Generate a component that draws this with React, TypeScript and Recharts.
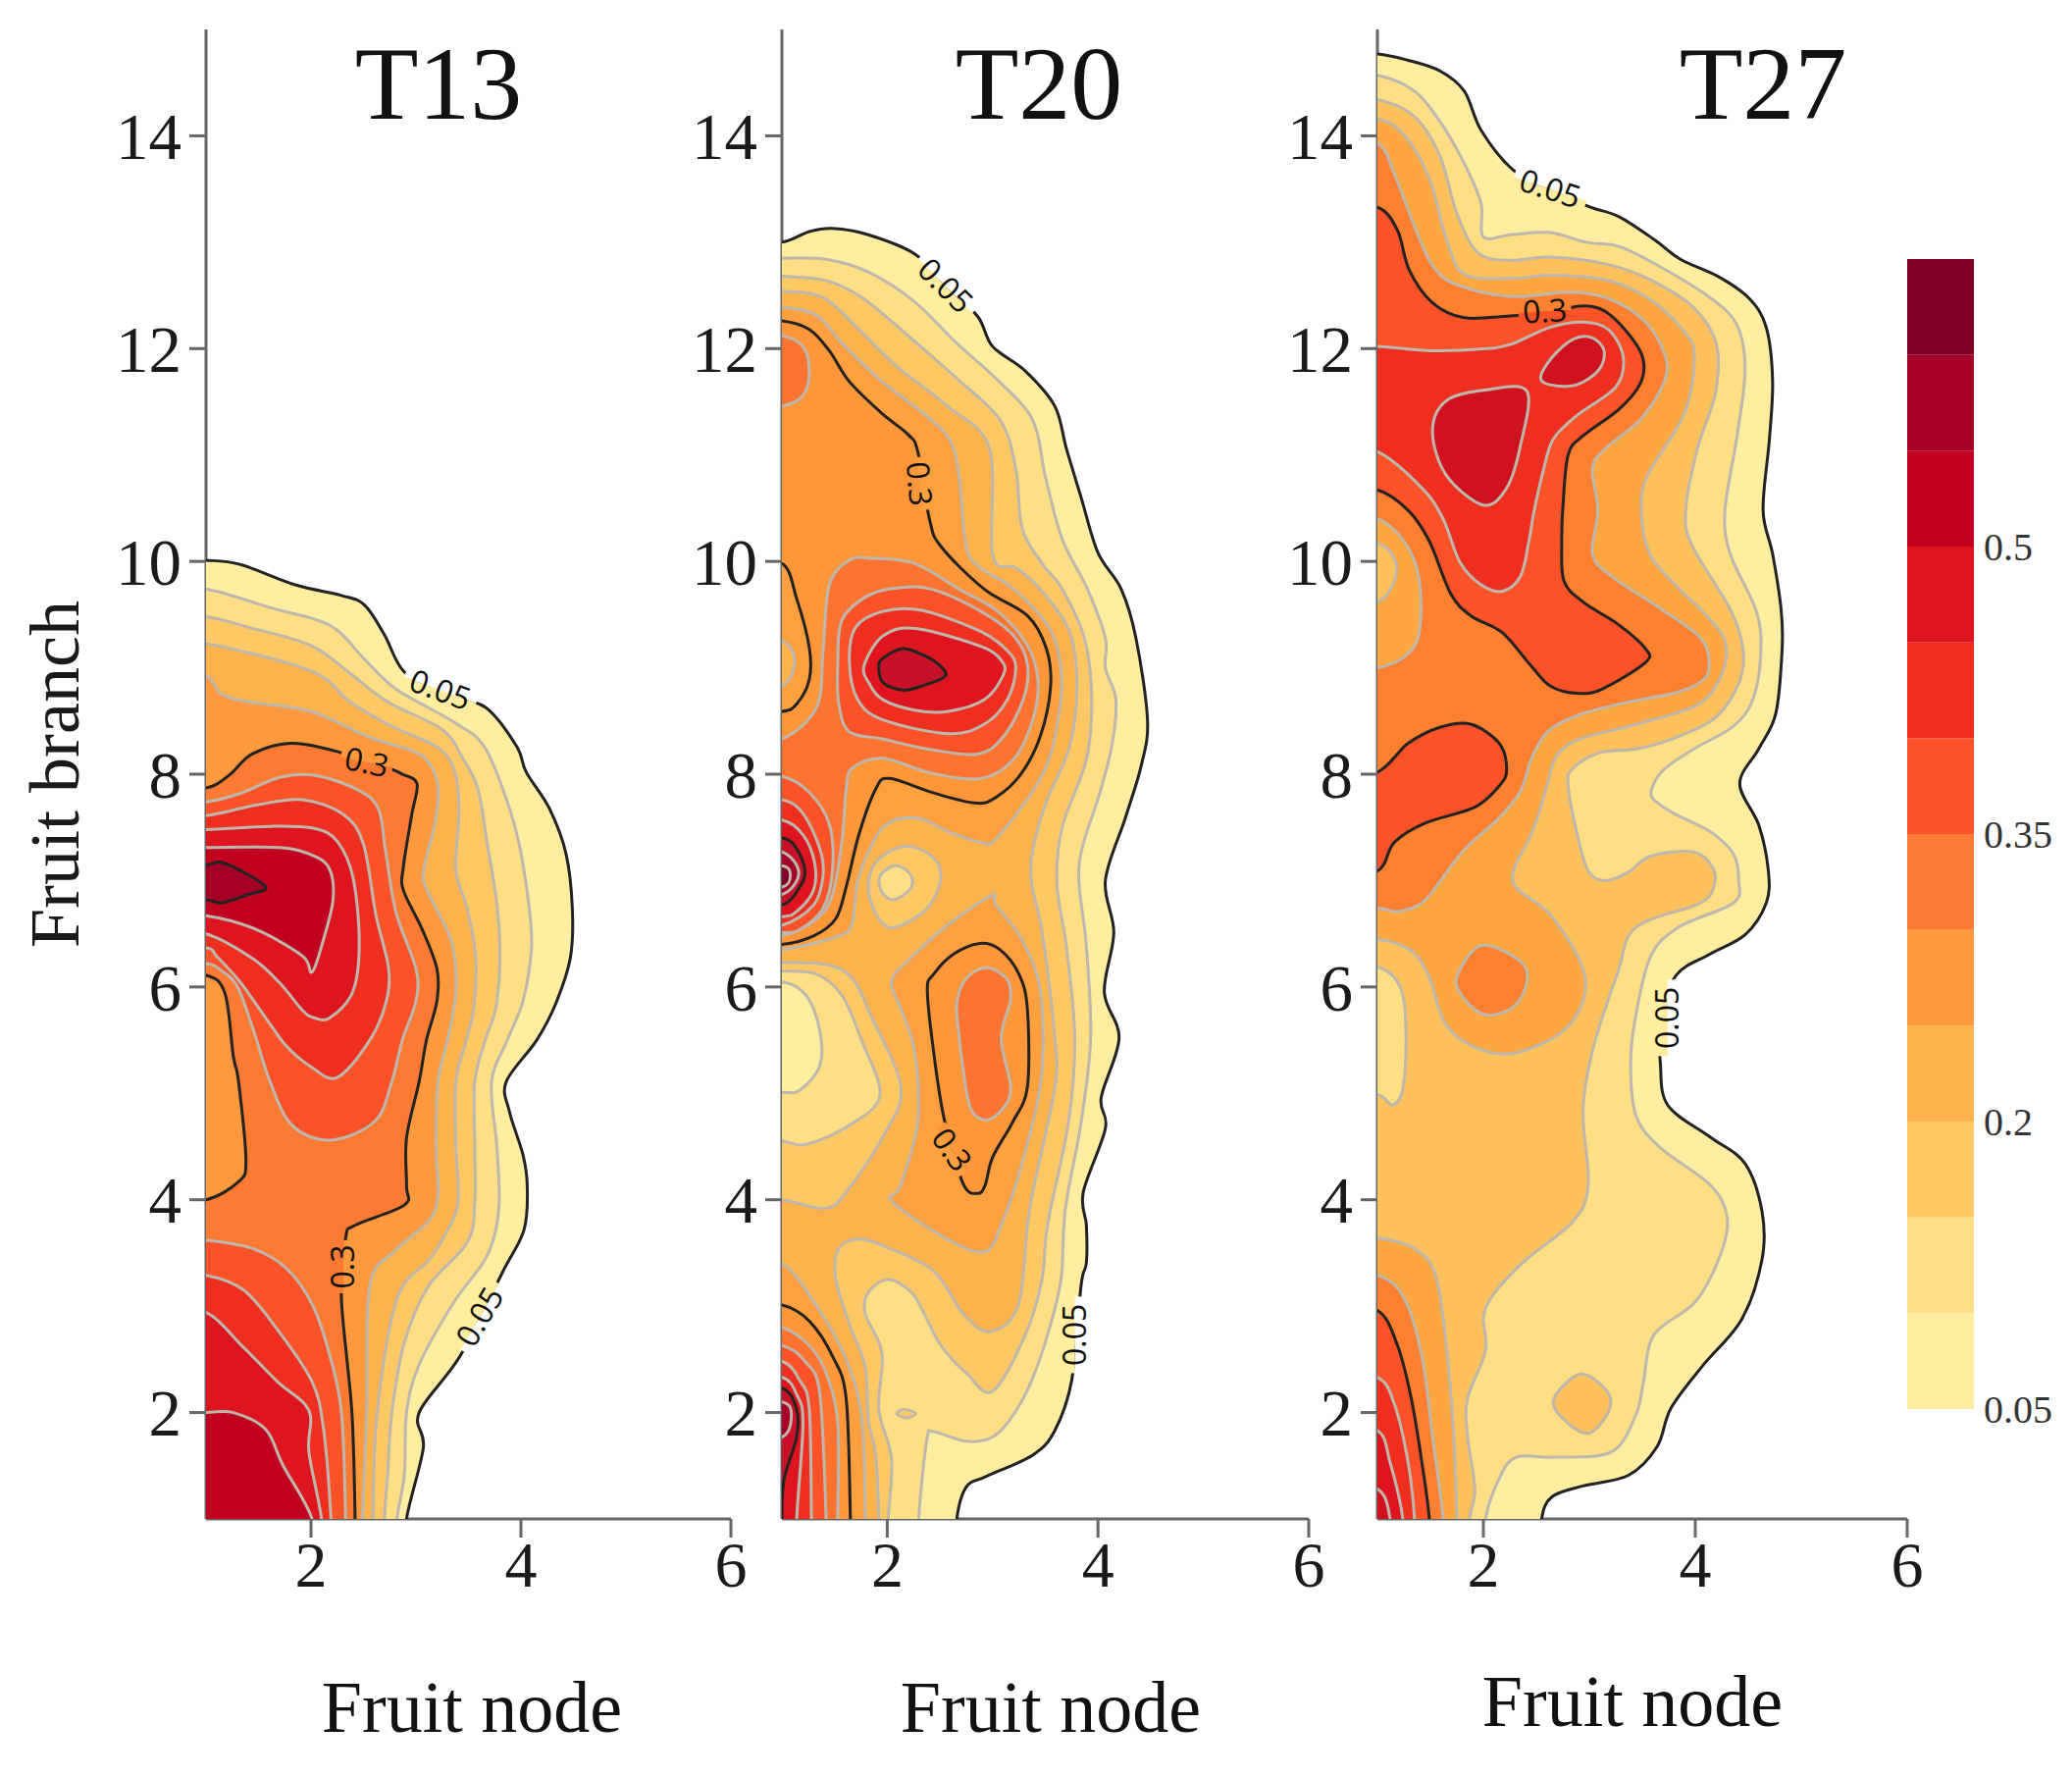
import { ScatterChart, Scatter, XAxis, YAxis, BarChart, Bar } from 'recharts'

type Pt = number[]

// colour steps of the scale, low to high
const C = {
  a: '#FFEDA0', b: '#FEDF83', c: '#FEC965', d: '#FEB24C', e: '#FE9A3D', f: '#FD7A33',
  g: '#FC5227', h: '#EE2F1F', i: '#DE141E', j: '#C2001F', k: '#A50026', l: '#800026',
}
const GREY = '#BDB7AE'
const BLACK = '#222222'
const SERIF = '"Liberation Serif", serif'

const nodeTicks = [2, 4, 6]
const branchTicks = [2, 4, 6, 8, 10, 12, 14]

const scaleSteps = [0.1, 0.05, 0.05, 0.05, 0.05, 0.05, 0.05, 0.05, 0.05, 0.05, 0.05, 0.05]
const scaleColors = [C.a, C.b, C.c, C.d, C.e, C.f, C.g, C.h, C.i, C.j, C.k, C.l]
const scaleTicks = [0.05, 0.2, 0.35, 0.5]

// ---- T13 contours (fruit node, fruit branch)
const t13Outer: Pt[] = [[1,10.01],[1.33,9.97],[1.85,9.78],[2.29,9.68],[2.51,9.59],[2.7,9.31],[2.88,8.97],[3.21,8.77],[3.66,8.63],[3.96,8.26],[4.05,8.02],[4.27,7.68],[4.43,7.25],[4.49,6.73],[4.47,6.27],[4.33,5.84],[4.15,5.5],[3.86,5.11],[3.89,4.83],[4.02,4.42],[4.06,4.13],[4.03,3.72],[3.82,3.31],[3.42,2.53],[3.03,2],[3.07,1.67],[2.91,1]]
const t13L2: Pt[] = [[1,9.74],[1.63,9.56],[2.18,9.4],[2.51,9.08],[2.81,8.8],[3.36,8.49],[3.65,8.26],[3.87,7.74],[3.99,7.31],[4.08,6.73],[4.1,6.36],[4.02,5.87],[3.87,5.5],[3.72,5.11],[3.77,4.5],[3.79,3.93],[3.68,3.48],[3.35,3.02],[3.03,2.45],[2.91,2],[2.89,1.42],[2.82,1]]
const t13L3: Pt[] = [[1,9.48],[1.41,9.38],[2,9.21],[2.37,8.95],[2.73,8.68],[3.25,8.42],[3.45,8.14],[3.59,7.86],[3.68,7.34],[3.77,6.79],[3.8,6.27],[3.76,5.8],[3.66,5.5],[3.56,5.11],[3.56,4.5],[3.56,3.97],[3.49,3.6],[3.12,3.19],[2.89,2.66],[2.77,2],[2.73,1.42],[2.7,1]]
const t13L4: Pt[] = [[1,9.23],[2,8.97],[2.37,8.68],[2.77,8.45],[3.21,8.25],[3.37,8.02],[3.41,7.65],[3.38,7.1],[3.49,6.73],[3.57,6.27],[3.55,5.8],[3.48,5.5],[3.38,5.11],[3.38,4.5],[3.4,3.97],[3.26,3.64],[3.12,3.43],[2.82,3.07],[2.63,2],[2.59,1]]
const t13L5: Pt[] = [[1,8.92],[1.15,8.75],[1.41,8.68],[2,8.59],[2.55,8.35],[2.96,8.22],[3.12,8.11],[3.21,7.89],[3.18,7.53],[3.07,7.08],[3.12,6.88],[3.34,6.42],[3.38,5.96],[3.3,5.5],[3.21,5.11],[3.19,4.5],[3.21,4.05],[3.12,3.8],[2.8,3.52],[2.56,3.19],[2.53,2],[2.49,1]]
const t13Mid: Pt[] = [[1,7.87],[1.22,7.99],[1.44,8.19],[1.81,8.29],[2.22,8.22],[2.73,8.06],[2.87,8],[3.01,7.91],[2.96,7.62],[2.88,7.13],[2.88,6.91],[3.06,6.54],[3.2,6.17],[3.2,5.87],[3.1,5.5],[3.03,5.11],[2.91,4.58],[2.91,4.13],[2.89,3.95],[2.42,3.76],[2.33,3.64],[2.29,3.07],[2.39,2],[2.42,1]]
const t13Pocket: Pt[] = [[1,6.11],[1.18,5.94],[1.26,5.35],[1.31,5.11],[1.38,4.37],[1.31,4.17],[1,4]]
const t13UpperG: Pt[] = [[1,7.74],[1.33,7.82],[1.7,7.97],[2.03,7.99],[2.43,7.86],[2.64,7.68],[2.71,7.28],[2.81,6.7],[3,6.17],[3,5.87],[2.87,5.5],[2.77,5.11],[2.61,4.74],[2.19,4.56],[1.82,4.7],[1.61,5.11],[1.45,5.6],[1.3,6],[1.15,6.15],[1,6.22]]
const t13UpperH: Pt[] = [[1,7.61],[1.48,7.71],[1.92,7.76],[2.31,7.62],[2.5,7.34],[2.62,6.67],[2.74,6.17],[2.71,5.84],[2.56,5.5],[2.25,5.15],[2,5.25],[1.77,5.44],[1.59,5.68],[1.33,6.04],[1.11,6.28],[1,6.37]]
const t13UpperI: Pt[] = [[1,7.48],[1.63,7.51],[2.03,7.49],[2.25,7.37],[2.4,7.03],[2.46,6.42],[2.4,5.96],[2.18,5.71],[2.03,5.71],[1.92,5.78],[1.7,6.04],[1.44,6.27],[1,6.5]]
const t13UpperJ: Pt[] = [[1,7.31],[1.7,7.31],[2.03,7.23],[2.18,7.1],[2.21,6.82],[2.12,6.45],[2.01,6.14],[1.92,6.29],[1.48,6.54],[1,6.67]]
const t13Peak: Pt[] = [[1,7.15],[1.15,7.17],[1.41,7.05],[1.57,6.93],[1.41,6.87],[1.15,6.79],[1,6.82]]
const t13LowerG: Pt[] = [[1,3.62],[1.45,3.54],[1.77,3.35],[2.01,3.02],[2.17,2.57],[2.29,2],[2.33,1]]
const t13LowerH: Pt[] = [[1,3.29],[1.36,3.15],[1.68,2.78],[2.01,2.29],[2.12,1.84],[2.19,1]]
const t13LowerI: Pt[] = [[1,2.94],[1.36,2.61],[1.68,2.29],[1.98,2.02],[1.98,1.63],[2.1,1]]
const t13LowerJ: Pt[] = [[1,2],[1.26,2],[1.57,1.84],[1.73,1.51],[2.01,1]]

// ---- T20 contours
const t20Outer: Pt[] = [[1,13],[1.26,13.1],[1.48,13.13],[1.82,13.07],[2.26,12.89],[2.57,12.58],[2.86,12.3],[3,12.02],[3.31,11.79],[3.59,11.46],[3.7,11.06],[3.84,10.6],[4,10.08],[4.22,9.74],[4.36,9.28],[4.47,8.51],[4.41,8.08],[4.26,7.59],[4.07,7],[4.15,6.51],[4.06,5.95],[4.2,5.52],[4.03,4.96],[4.07,4.67],[3.86,4.07],[3.89,3.76],[3.89,3.41],[3.84,3.2],[3.75,2.3],[3.59,1.83],[3.38,1.6],[2.94,1.4],[2.75,1.3],[2.66,1]]
const t20L2: Pt[] = [[1,12.85],[1.42,12.84],[1.82,12.72],[2.26,12.44],[2.66,12.05],[3.03,11.72],[3.38,11.33],[3.5,10.8],[3.66,10.21],[3.9,9.74],[4.07,9.28],[4.07,9],[4.17,8.7],[4.13,8.26],[4.01,7.8],[3.85,7.31],[3.82,6.97],[3.89,6.38],[3.93,5.52],[3.84,4.73],[3.69,3.91],[3.65,3.26],[3.53,2.76],[3.37,2.3],[3.19,1.97],[3,1.77],[2.75,1.73],[2.44,1.82],[2.38,1.77],[2.32,1.27],[2.3,1]]
const t20L3: Pt[] = [[1,12.68],[1.42,12.64],[1.76,12.48],[2.2,12.12],[2.66,11.72],[3.07,11.33],[3.22,10.87],[3.28,10.31],[3.47,9.98],[3.66,9.74],[3.87,9.28],[3.94,8.72],[3.89,8.14],[3.66,7.5],[3.61,6.97],[3.7,6.38],[3.78,5.52],[3.72,4.73],[3.52,3.76],[3.47,3.26],[3.31,2.73],[3,2.2],[2.75,2.37],[2.51,2.63],[2.35,2.93],[2.23,3.13],[2.01,3.25],[1.82,3.13],[1.79,2.93],[1.95,2.56],[1.92,2.03],[2.04,1.57],[2.01,1]]
const t20L4: Pt[] = [[1,12.54],[1.39,12.48],[1.7,12.21],[2.07,11.85],[2.57,11.46],[2.97,11.06],[3,10.06],[3.22,9.94],[3.45,9.74],[3.73,9.34],[3.8,8.82],[3.73,8.26],[3.51,7.74],[3.38,7.28],[3.37,6.97],[3.47,6.51],[3.59,5.52],[3.59,5.06],[3.38,4.07],[3.33,3.76],[3.24,3],[2.97,2.76],[2.72,2.93],[2.44,3.33],[1.98,3.56],[1.73,3.63],[1.54,3.54],[1.51,3.26],[1.64,2.83],[1.79,2.43],[1.82,1.93],[1.89,1.6],[1.92,1]]
const t20L5: Pt[] = [[1,12.39],[1.33,12.31],[1.57,12.05],[1.95,11.69],[2.38,11.36],[2.6,11.13],[2.68,10.8],[2.75,10.14],[2.88,9.94],[3.2,9.74],[3.54,9.37],[3.65,8.97],[3.63,8.57],[3.48,8.01],[3.05,7.41],[2.89,7.36],[2.58,7.46],[2.27,7.59],[1.96,7.5],[1.73,7.04],[1.67,6.61],[1.54,6.48],[1,6.35]]
const t20Mid: Pt[] = [[1,12.26],[1.26,12.18],[1.45,11.98],[1.64,11.69],[1.95,11.39],[2.2,11.19],[2.29,11.03],[2.4,10.4],[2.51,10.14],[2.92,9.74],[3.33,9.49],[3.51,9.18],[3.55,8.82],[3.45,8.35],[3.26,7.99],[3.01,7.77],[2.82,7.73],[2.42,7.83],[2.02,7.96],[1.89,7.86],[1.73,7.43],[1.61,6.94],[1.51,6.64],[1.3,6.48],[1,6.4]]
const t20TopPatch: Pt[] = [[1,12.12],[1.2,12.02],[1.26,11.79],[1.2,11.56],[1,11.46]]
const t20LeftPocket: Pt[] = [[1,9.98],[1.14,9.65],[1.26,9.19],[1.26,8.89],[1.14,8.66],[1,8.59]]
const t20LeftPocketIn: Pt[] = [[1,9.25],[1.12,9.06],[1,8.83]]
const t20Ring1: Pt[] = [[1,8.33],[1.33,8.63],[1.39,9.15],[1.45,9.78],[1.64,10.01],[1.82,10.03],[2.26,9.98],[2.68,9.74],[3.05,9.53],[3.33,9.21],[3.43,8.88],[3.38,8.51],[3.2,8.14],[2.89,7.96],[2.42,8.01],[1.96,8.15],[1.67,8.06],[1.61,7.86],[1.57,7.37],[1.48,6.87],[1.33,6.64],[1,6.48]]
const t20Ring2: Pt[] = [[1.53,9.02],[1.57,9.45],[1.82,9.68],[2.1,9.75],[2.42,9.74],[2.89,9.53],[3.2,9.3],[3.33,9.03],[3.29,8.7],[3.1,8.35],[2.86,8.19],[2.42,8.23],[1.96,8.33],[1.64,8.4],[1.54,8.66]]
const t20Ring3: Pt[] = [[1.64,9.06],[1.7,9.38],[1.96,9.53],[2.33,9.54],[2.89,9.34],[3.14,9.16],[3.22,9],[3.14,8.7],[2.92,8.47],[2.58,8.38],[1.96,8.51],[1.72,8.7]]
const t20Ring4: Pt[] = [[1.78,9.02],[1.96,9.3],[2.27,9.37],[2.89,9.2],[3.09,9.06],[3.1,8.93],[2.92,8.7],[2.58,8.59],[2.27,8.6],[1.96,8.7],[1.83,8.85]]
const t20Core: Pt[] = [[1.92,9.01],[1.96,9.09],[2.15,9.18],[2.36,9.11],[2.5,9.02],[2.55,8.92],[2.33,8.83],[2.15,8.79],[1.96,8.86]]
const t20Spot1: Pt[] = [[1,7.98],[1.26,7.83],[1.45,7.53],[1.48,7.1],[1.39,6.74],[1.17,6.54],[1,6.51]]
const t20Spot2: Pt[] = [[1,7.76],[1.2,7.63],[1.36,7.3],[1.39,7.04],[1.3,6.77],[1,6.58]]
const t20Spot3: Pt[] = [[1,7.57],[1.2,7.43],[1.31,7.17],[1.3,6.91],[1.14,6.71],[1,6.66]]
const t20Spot4: Pt[] = [[1,7.4],[1.14,7.3],[1.22,7.09],[1.17,6.94],[1,6.77]]
const t20Spot5: Pt[] = [[1,7.27],[1.16,7.07],[1,6.87]]
const t20Spot6: Pt[] = [[1,7.14],[1.08,7.05],[1,6.94]]
const t20LowBand1: Pt[] = [[1,6.23],[1.42,6.21],[1.67,6.08],[1.85,5.72],[2.13,5.06],[1.98,4.63],[1.64,4.11],[1.42,3.92],[1,4]]
const t20LowBand2: Pt[] = [[1,6.15],[1.33,6.12],[1.57,5.92],[1.76,5.49],[1.93,4.98],[1.64,4.7],[1.23,4.52],[1,4.55]]
const t20LowBand3: Pt[] = [[1,6.05],[1.23,5.92],[1.36,5.59],[1.36,5.26],[1.17,5.03],[1,5.01]]
const t20Circle1: Pt[] = [[2.15,7.32],[2.41,7.24],[2.51,7.04],[2.38,6.74],[2.07,6.56],[1.92,6.64],[1.82,6.91],[1.89,7.17]]
const t20Circle2: Pt[] = [[2.07,7.14],[2.21,7.07],[2.23,6.94],[2.07,6.82],[1.95,6.89],[1.93,7.04]]
const t20Isle1: Pt[] = [[2.04,6.05],[2.2,6.25],[2.57,6.58],[2.99,6.86],[3.03,6.77],[3.28,6.44],[3.45,5.98],[3.47,5.23],[3.34,4.57],[3.1,3.81],[2.85,3.51],[2.07,3.96],[2.13,4.14],[2.29,4.73],[2.26,5.39],[2.13,5.79]]
const t20Isle2: Pt[] = [[2.38,5.97],[2.44,6.12],[2.63,6.31],[2.88,6.41],[3.07,6.35],[3.25,6.12],[3.33,5.79],[3.33,5.06],[3.19,4.73],[3,4.4],[2.93,4.14],[2.86,4.06],[2.72,4.15],[2.54,4.76],[2.44,5.39]]
const t20Isle3: Pt[] = [[2.66,5.85],[2.75,6.08],[2.94,6.18],[3.13,6.08],[3.17,5.88],[3.08,5.52],[3.17,5.06],[3.1,4.86],[2.94,4.75],[2.79,4.86],[2.72,5.23],[2.68,5.55]]
const t20Speck: Pt[] = [[2.09,1.99],[2.16,2.03],[2.27,1.99],[2.18,1.95]]
const t20Base1: Pt[] = [[1,3.4],[1.33,3],[1.61,2.5],[1.76,1.93],[1.79,1]]
const t20Base2: Pt[] = [[1,3.01],[1.26,2.86],[1.48,2.53],[1.61,2.13],[1.65,1]]
const t20Base3: Pt[] = [[1,2.8],[1.26,2.63],[1.42,2.37],[1.53,1.9],[1.53,1]]
const t20Base4: Pt[] = [[1,2.63],[1.23,2.47],[1.36,2.17],[1.42,1]]
const t20Base5: Pt[] = [[1,2.48],[1.17,2.3],[1.26,2.03],[1.28,1]]
const t20Base6: Pt[] = [[1,2.33],[1.14,2.17],[1.2,1.9],[1.14,1]]
const t20Base7: Pt[] = [[1,2.23],[1.14,2.03],[1.14,1.77],[1.02,1.37],[1,1]]
const t20Base8: Pt[] = [[1,2.1],[1.09,1.98],[1,1.77]]

// ---- T27 contours
const t27Outer: Pt[] = [[1,14.77],[1.29,14.71],[1.59,14.61],[1.82,14.42],[1.98,14.05],[2.28,13.68],[2.65,13.48],[3.01,13.33],[3.28,13.24],[3.62,13.02],[3.86,12.84],[4.23,12.67],[4.51,12.47],[4.67,12.2],[4.73,11.7],[4.7,11.15],[4.64,10.48],[4.73,10.07],[4.81,9.55],[4.82,9.18],[4.76,8.57],[4.6,8.24],[4.42,7.91],[4.6,7.52],[4.69,7.09],[4.67,6.79],[4.47,6.49],[4.14,6.31],[3.82,6.11],[3.67,5.69],[3.67,5.29],[3.74,4.89],[4.14,4.59],[4.47,4.34],[4.63,3.89],[4.63,3.44],[4.44,2.88],[4.07,2.44],[3.77,2.04],[3.64,1.68],[3.37,1.41],[2.94,1.31],[2.65,1.21],[2.55,1]]
const t27L2: Pt[] = [[1,14.57],[1.35,14.42],[1.62,14.09],[1.85,13.68],[1.98,13.36],[2,13.05],[2.26,13.07],[2.63,13.09],[2.97,13],[3.28,12.96],[3.65,12.78],[4.11,12.5],[4.39,12.23],[4.47,11.8],[4.39,11.15],[4.28,10.48],[4.33,10.07],[4.57,9.55],[4.62,9.18],[4.55,8.72],[4.36,8.45],[3.99,8.24],[3.71,8.05],[3.6,7.89],[3.6,7.77],[3.8,7.63],[4.14,7.46],[4.36,7.25],[4.41,7],[4.36,6.79],[3.84,6.56],[3.58,6.29],[3.44,5.74],[3.39,5.29],[3.44,4.79],[3.67,4.49],[4.14,4.14],[4.3,3.84],[4.24,3.49],[4,3.04],[3.61,2.73],[3.51,2.28],[3.44,1.98],[3.21,1.63],[2.68,1.58],[2.31,1.58],[2.15,1.38],[2.02,1]]
const t27L3: Pt[] = [[1,14.34],[1.35,14.18],[1.59,13.81],[1.75,13.27],[1.95,12.9],[2.26,12.83],[2.63,12.86],[3.18,12.79],[3.59,12.64],[3.99,12.38],[4.2,12.04],[4.19,11.58],[4.02,11.06],[3.91,10.48],[3.97,10.15],[4.33,9.55],[4.45,9.18],[4.42,8.88],[4.2,8.54],[3.83,8.35],[3.46,8.24],[3.09,8.2],[2.84,8.05],[2.8,7.89],[2.88,7.46],[2.99,7.09],[3.16,7],[3.37,7.08],[3.58,7.23],[3.98,7.27],[4.16,7.13],[4.18,6.97],[4.05,6.79],[3.44,6.56],[3.27,6.14],[3.04,5.44],[2.94,4.84],[2.99,4.14],[2.84,3.79],[2.35,3.39],[2.02,2.98],[2.02,2.58],[1.85,2.13],[1.85,1.78],[1.92,1.28],[1.87,1]]
const t27L4: Pt[] = [[1,14.16],[1.25,14.01],[1.49,13.6],[1.65,13.03],[1.82,12.7],[2.26,12.66],[2.66,12.69],[3.18,12.64],[3.56,12.47],[3.86,12.2],[3.99,11.95],[3.9,11.4],[3.55,10.81],[3.49,10.48],[3.57,10.07],[3.84,9.75],[4.05,9.55],[4.27,9.28],[4.28,9.03],[4.14,8.75],[3.9,8.6],[3.37,8.45],[2.91,8.33],[2.69,8.17],[2.6,7.89],[2.51,7.59],[2.44,7.41],[2.28,6.99],[2.65,6.66],[2.96,6.09],[2.81,5.64],[2.35,5.39],[1.98,5.41],[1.65,5.64],[1.49,6.09],[1.32,6.34],[1,6.45]]
const t27L5: Pt[] = [[1,13.93],[1.16,13.64],[1.35,13.15],[1.52,12.78],[1.75,12.6],[2.26,12.49],[2.81,12.53],[3.18,12.47],[3.52,12.26],[3.71,11.95],[3.71,11.7],[3.49,11.34],[3.15,11.06],[3.03,10.87],[3.08,10.48],[3.03,10.07],[3.21,9.86],[3.68,9.55],[4.05,9.28],[4.13,9.05],[4.08,8.89],[3.83,8.77],[3.37,8.68],[2.91,8.56],[2.63,8.42],[2.51,8.26],[2.44,8.11],[2.35,7.84],[2.15,7.59],[1.82,7.29],[1.59,6.99],[1.42,6.79],[1.19,6.71],[1,6.74]]
const t27Mid: Pt[] = [[1,13.33],[1.19,13.11],[1.3,12.74],[1.52,12.43],[1.82,12.29],[2.28,12.31],[2.61,12.33],[2.91,12.4],[3.15,12.35],[3.4,12.1],[3.51,11.89],[3.48,11.67],[3.28,11.43],[2.94,11.18],[2.8,11],[2.75,10.5],[2.74,10.19],[2.76,9.82],[2.94,9.62],[3.27,9.41],[3.53,9.18],[3.53,9.05],[3.12,8.8],[2.88,8.76],[2.63,8.83],[2.44,9.03],[2.18,9.33],[1.88,9.49],[1.69,9.7],[1.49,10.19],[1.29,10.48],[1,10.67]]
const t27Inner: Pt[] = [[1,12.02],[1.52,11.98],[2.02,12],[2.26,12.04],[2.63,12.2],[2.94,12.25],[3.18,12.18],[3.32,11.92],[3.25,11.64],[2.88,11.37],[2.66,11.15],[2.57,10.87],[2.48,10.48],[2.43,10.19],[2.35,9.86],[2.18,9.72],[1.98,9.78],[1.78,9.99],[1.62,10.4],[1.42,10.69],[1,11.03]]
const t27PeakA: Pt[] = [[2.41,11.6],[2.02,11.61],[1.65,11.51],[1.52,11.22],[1.65,10.81],[2,10.53],[2.22,10.69],[2.35,11.09]]
const t27PeakB: Pt[] = [[2.54,11.73],[2.65,11.92],[2.85,12.09],[3.03,12.1],[3.14,11.98],[3.09,11.8],[2.88,11.66],[2.63,11.66]]
const t27PocketA: Pt[] = [[1,10.4],[1.25,10.19],[1.39,9.86],[1.4,9.37],[1.29,9.13],[1,9]]
const t27PocketB: Pt[] = [[1,10.17],[1.16,10.03],[1.16,9.82],[1,9.62]]
const t27Wedge: Pt[] = [[1,8.02],[1.29,8.29],[1.59,8.44],[1.88,8.47],[2.15,8.29],[2.22,8.04],[2.15,7.89],[1.92,7.69],[1.45,7.54],[1.16,7.36],[1,7.09]]
const t27SideLight: Pt[] = [[1,6.19],[1.22,5.99],[1.27,5.54],[1.24,5.04],[1.14,4.89],[1,4.99]]
const t27EggMid: Pt[] = [[1.75,6.09],[1.98,6.39],[2.35,6.24],[2.41,6.04],[2.28,5.81],[2.02,5.74],[1.82,5.89]]
const t27EggLow: Pt[] = [[2.66,2.11],[2.91,2.36],[3.16,2.21],[3.19,2.03],[3.01,1.81],[2.81,1.89]]
const t27Base1: Pt[] = [[1,3.64],[1.35,3.54],[1.55,3.29],[1.65,2.63],[1.72,1.78],[1.75,1]]
const t27Base2: Pt[] = [[1,3.29],[1.25,3.08],[1.42,2.53],[1.52,1.78],[1.62,1]]
const t27Base3: Pt[] = [[1,2.96],[1.19,2.63],[1.32,2.13],[1.42,1.53],[1.49,1]]
const t27Base4: Pt[] = [[1,2.33],[1.16,2.08],[1.29,1.53],[1.35,1]]
const t27Base5: Pt[] = [[1,1.83],[1.12,1.53],[1.24,1]]
const t27Base6: Pt[] = [[1,1.28],[1.12,1]]

type Layer = [Pt[], string, string]

const t13Layers: Layer[] = [
  [t13Outer, C.a, BLACK], [t13L2, C.b, GREY], [t13L3, C.c, GREY], [t13L4, C.d, GREY], [t13L5, C.e, GREY],
  [t13Mid, C.f, BLACK], [t13Pocket, C.e, BLACK],
  [t13UpperG, C.g, GREY], [t13UpperH, C.h, GREY], [t13UpperI, C.i, GREY], [t13UpperJ, C.j, GREY], [t13Peak, C.k, BLACK],
  [t13LowerG, C.g, GREY], [t13LowerH, C.h, GREY], [t13LowerI, C.i, GREY], [t13LowerJ, C.j, GREY],
]

const T20_E = '#FEA040'
const T20_F = '#FE963A'
const T20_G = '#FD7430'
const T20_CORE = '#C8102A'

const t20Layers: Layer[] = [
  [t20Outer, C.a, BLACK], [t20L2, C.b, GREY], [t20L3, C.c, GREY], [t20L4, C.d, GREY], [t20L5, T20_E, GREY],
  [t20Mid, T20_F, BLACK], [t20TopPatch, T20_G, GREY], [t20LeftPocket, T20_E, BLACK], [t20LeftPocketIn, C.d, GREY],
  [t20Ring1, T20_G, GREY], [t20Ring2, C.g, GREY], [t20Ring3, C.h, GREY], [t20Ring4, C.i, GREY], [t20Core, T20_CORE, BLACK],
  [t20Spot1, C.g, GREY], [t20Spot2, C.h, GREY], [t20Spot3, C.i, GREY], [t20Spot4, T20_CORE, BLACK], [t20Spot5, C.k, GREY], [t20Spot6, C.l, GREY],
  [t20LowBand1, C.c, GREY], [t20LowBand2, C.b, GREY], [t20LowBand3, C.a, GREY],
  [t20Circle1, C.c, GREY], [t20Circle2, C.b, GREY], [t20Speck, C.c, GREY],
  [t20Isle1, T20_E, GREY], [t20Isle2, T20_F, BLACK], [t20Isle3, T20_G, GREY],
  [t20Base1, T20_E, GREY], [t20Base2, T20_F, BLACK], [t20Base3, T20_G, GREY], [t20Base4, C.g, GREY],
  [t20Base5, C.h, GREY], [t20Base6, C.i, GREY], [t20Base7, T20_CORE, BLACK], [t20Base8, C.k, GREY],
]

const T27_C = '#FEC15C'
const T27_D = '#FEA640'
const T27_E = '#FD7F30'
const T27_PEAK = '#D0121E'

const t27Layers: Layer[] = [
  [t27Outer, C.a, BLACK], [t27L2, C.b, GREY], [t27L3, T27_C, GREY], [t27L4, T27_D, GREY], [t27L5, T27_E, GREY],
  [t27Mid, C.g, BLACK], [t27Inner, C.h, GREY], [t27PeakA, T27_PEAK, GREY], [t27PeakB, T27_PEAK, GREY],
  [t27PocketA, T27_D, GREY], [t27PocketB, T27_C, GREY], [t27Wedge, C.g, BLACK],
  [t27SideLight, C.b, GREY], [t27EggMid, T27_E, GREY], [t27EggLow, T27_C, GREY],
  [t27Base1, T27_D, GREY], [t27Base2, T27_E, GREY], [t27Base3, C.g, BLACK], [t27Base4, C.h, GREY], [t27Base5, C.i, GREY], [t27Base6, T27_PEAK, GREY],
]

// contour labels: node, branch, text, angle, colour above the line, colour below it
type Tag = [number, number, string, number, string, string]
const t13Tags: Tag[] = [
  [3.23, 8.79, '0.05', 20, '#fff', C.a],
  [2.53, 8.11, '0.3', 12, C.e, C.f],
  [2.31, 3.37, '0.3', -90, C.f, C.e],
  [3.61, 2.9, '0.05', -60, C.a, '#fff'],
]
const t20Tags: Tag[] = [
  [2.55, 12.59, '0.05', 45, '#fff', C.a],
  [2.3, 10.73, '0.3', 85, T20_E, T20_F],
  [2.61, 4.47, '0.3', 55, T20_F, T20_E],
  [3.78, 2.73, '0.05', -90, C.a, '#fff'],
]
const t27Tags: Tag[] = [
  [2.63, 13.5, '0.05', 18, '#fff', C.a],
  [2.58, 12.35, '0.3', -3, T27_E, C.g],
  [3.74, 5.71, '0.05', -90, C.a, '#fff'],
]

// run the outline round the outside of the axes, the plot clip cuts it back
const closeAtAxes = (pts: Pt[]) => {
  const first = pts[0]
  const last = pts[pts.length - 1]
  const out = [...pts]
  if (last[1] === 1) out.push([last[0], 0.6], [0.6, 0.6])
  else if (last[0] === 1) out.push([0.6, last[1]])
  if (first[0] === 1) out.push([0.6, first[1]])
  return out.map(([x, y]) => ({ x, y }))
}

// closed Catmull-Rom so the line goes through every read point
const closedSpline = (ctx: any) => {
  let pts: number[][] = []
  return {
    areaStart() {},
    areaEnd() {},
    lineStart() {
      pts = []
    },
    point(x: number, y: number) {
      pts.push([+x, +y])
    },
    lineEnd() {
      const n = pts.length
      ctx.moveTo(pts[0][0], pts[0][1])
      for (let i = 0; i < n; i++) {
        const p0 = pts[(i - 1 + n) % n]
        const p1 = pts[i]
        const p2 = pts[(i + 1) % n]
        const p3 = pts[(i + 2) % n]
        ctx.bezierCurveTo(
          p1[0] + (p2[0] - p0[0]) / 6, p1[1] + (p2[1] - p0[1]) / 6,
          p2[0] - (p3[0] - p1[0]) / 6, p2[1] - (p3[1] - p1[1]) / 6,
          p2[0], p2[1],
        )
      }
      ctx.closePath()
    },
  }
}

const TagMark = (props: any) => {
  const { cx, cy, payload } = props
  const w = payload.text.length > 3 ? 78 : 54
  return (
    <g transform={`translate(${cx},${cy}) rotate(${payload.angle})`}>
      <rect x={-w / 2} y={-11} width={w} height={11} fill={payload.above} />
      <rect x={-w / 2} y={0} width={w} height={11} fill={payload.below} />
      <text textAnchor="middle" dy={11} fontSize={32} fontFamily='"Open Sans", sans-serif' fill="#111">
        {payload.text}
      </text>
    </g>
  )
}

interface PanelProps {
  left: number
  yWidth: number
  plotWidth: number
  layers: Layer[]
  tags: Tag[]
  showBranchLabel?: boolean
}

function Panel({ left, yWidth, plotWidth, layers, tags, showBranchLabel }: PanelProps) {
  const tagData = tags.map(([x, y, text, angle, above, below]) => ({ x, y, text, angle, above, below }))
  return (
    <div style={{ position: 'absolute', left, top: 0 }}>
      <ScatterChart width={yWidth + plotWidth + 40} height={1811} margin={{ top: 30, right: 40, bottom: 0, left: 0 }}>
        <XAxis
          type="number"
          dataKey="x"
          domain={[1, 6]}
          ticks={nodeTicks}
          allowDataOverflow
          interval={0}
          height={263}
          tickSize={19}
          tickMargin={3}
          stroke="#666"
          strokeWidth={3}
          tick={{ fontSize: 66, fontFamily: SERIF, fill: '#1a1a1a' }}
        />
        <YAxis
          type="number"
          dataKey="y"
          domain={[1, 15]}
          ticks={branchTicks}
          allowDataOverflow
          interval={0}
          width={yWidth}
          tickSize={17}
          tickMargin={8}
          stroke="#666"
          strokeWidth={3}
          tick={{ fontSize: 67, fontFamily: SERIF, fill: '#1a1a1a' }}
          label={
            showBranchLabel
              ? { value: 'Fruit branch', angle: -90, position: 'insideLeft', offset: 54, textAnchor: 'middle', fontSize: 72, fontFamily: SERIF, fill: '#1a1a1a' }
              : undefined
          }
        />
        {layers.map(([pts, fill, edge], i) => (
          <Scatter
            key={i}
            data={closeAtAxes(pts)}
            line={{ fill, stroke: edge, strokeWidth: 3 }}
            lineJointType={closedSpline as any}
            shape={() => <g />}
            isAnimationActive={false}
          />
        ))}
        <Scatter data={tagData} shape={TagMark} isAnimationActive={false} />
      </ScatterChart>
    </div>
  )
}

const scaleRow: Record<string, any> = { name: 'density' }
scaleSteps.forEach((v, i) => {
  scaleRow[`s${i}`] = v
})

function ColorScale() {
  return (
    <div style={{ position: 'absolute', left: 1944, top: 0 }}>
      <BarChart width={168} height={1811} data={[scaleRow]} barCategoryGap={0} margin={{ top: 264, right: 0, bottom: 375, left: 0 }}>
        <XAxis dataKey="name" hide />
        <YAxis
          orientation="right"
          type="number"
          domain={[0.05, 0.65]}
          ticks={scaleTicks}
          allowDataOverflow
          interval={0}
          width={100}
          axisLine={false}
          tickLine={false}
          tickMargin={4}
          tick={{ fontSize: 40, fontFamily: SERIF, fill: '#333' }}
        />
        {scaleSteps.map((_, i) => (
          <Bar key={i} dataKey={`s${i}`} stackId="scale" fill={scaleColors[i]} isAnimationActive={false} />
        ))}
      </BarChart>
    </div>
  )
}

const textStyle = (left: number, top: number, fontSize: number): React.CSSProperties => ({
  position: 'absolute',
  left,
  top,
  transform: 'translateX(-50%)',
  fontFamily: SERIF,
  fontSize,
  color: '#111',
  whiteSpace: 'nowrap',
})

export default function App() {
  return (
    <div style={{ position: 'absolute', left: 0, top: 0, width: 2112, height: 1811, background: '#fff', overflow: 'hidden' }}>
      <Panel left={0} yWidth={210} plotWidth={535} layers={t13Layers} tags={t13Tags} showBranchLabel />
      <Panel left={637} yWidth={160} plotWidth={537} layers={t20Layers} tags={t20Tags} />
      <Panel left={1244} yWidth={160} plotWidth={540} layers={t27Layers} tags={t27Tags} />
      <ColorScale />
      <div style={textStyle(447, 25, 106)}>T13</div>
      <div style={textStyle(1059, 25, 106)}>T20</div>
      <div style={textStyle(1797, 25, 106)}>T27</div>
      <div style={textStyle(481, 1698, 74)}>Fruit node</div>
      <div style={textStyle(1071, 1698, 74)}>Fruit node</div>
      <div style={textStyle(1664, 1692, 74)}>Fruit node</div>
    </div>
  )
}
